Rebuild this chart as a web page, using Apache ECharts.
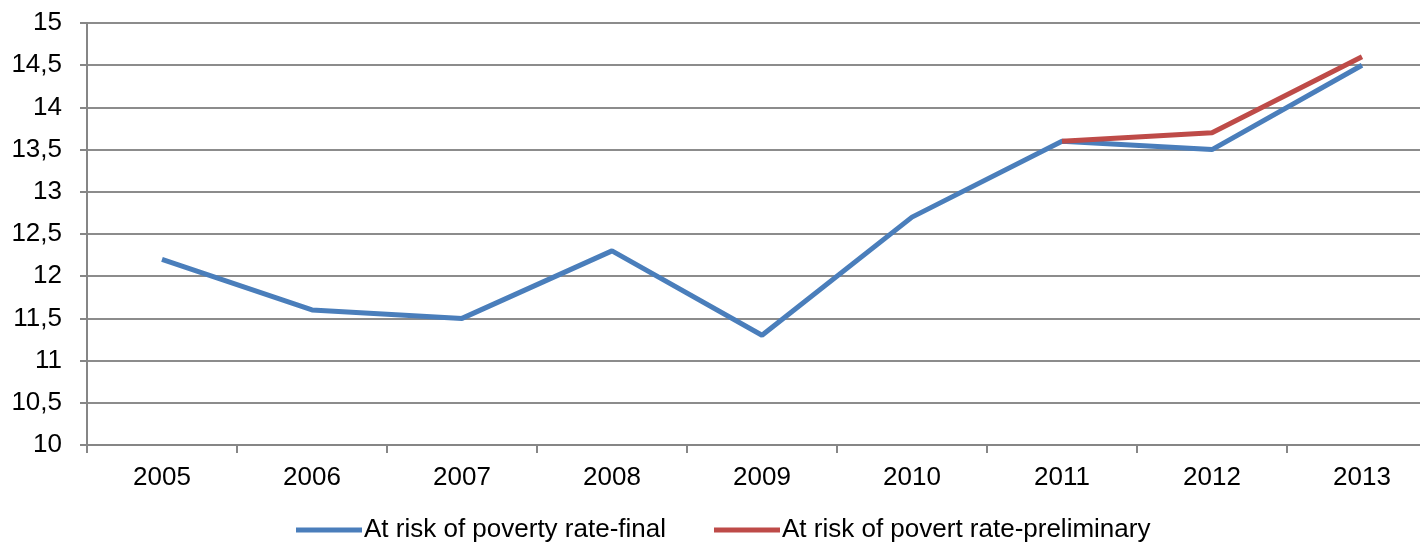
<!DOCTYPE html>
<html>
<head>
<meta charset="utf-8">
<script src="https://cdn.jsdelivr.net/npm/echarts@6/dist/echarts.min.js"></script>
<style>
  html, body { margin: 0; padding: 0; background: #fff; overflow: hidden; }
  #chart { width: 1437px; height: 546px; }
</style>
</head>
<body>
<div id="chart"></div>
<script>
// data
var years = ['2005', '2006', '2007', '2008', '2009', '2010', '2011', '2012', '2013'];
var finalRate = [12.2, 11.6, 11.5, 12.3, 11.3, 12.7, 13.6, 13.5, 14.5];
var preliminaryRate = [null, null, null, null, null, null, 13.6, 13.7, 14.6];
var yTicks = [10, 10.5, 11, 11.5, 12, 12.5, 13, 13.5, 14, 14.5, 15];

var myChart = echarts.init(document.getElementById('chart'));

var font = 'Arial, "Liberation Sans", sans-serif';

var option = {
    animation: false,
    grid: {
        left: 87,
        right: 0,
        top: 23,
        bottom: 101
    },
    legend: {
        bottom: -2,
        left: 291,
        itemWidth: 66,
        itemHeight: 5,
        itemGap: 48,
        icon: 'rect',
        textStyle: {
            fontFamily: font,
            fontSize: 26,
            color: '#000',
            padding: [0, 0, 0, -3]
        },
        data: ['At risk of poverty rate-final', 'At risk of povert rate-preliminary']
    },
    xAxis: {
        type: 'category',
        data: years,
        boundaryGap: true,
        axisLine: { lineStyle: { color: '#868686', width: 2 } },
        axisTick: { show: true, length: 8, lineStyle: { color: '#868686', width: 2 } },
        axisLabel: {
            margin: 20,
            fontFamily: font,
            fontSize: 26,
            color: '#000'
        }
    },
    yAxis: {
        type: 'value',
        min: yTicks[0],
        max: yTicks[yTicks.length - 1],
        interval: 0.5,
        axisLine: { show: true, lineStyle: { color: '#868686', width: 2 } },
        axisTick: { show: true, length: 7, lineStyle: { color: '#868686', width: 2 } },
        splitLine: { lineStyle: { color: '#8c8c8c', width: 2 } },
        axisLabel: {
            margin: 25,
            fontFamily: font,
            fontSize: 26,
            color: '#000',
            formatter: function (v) {
                return String(v).replace('.', ',');
            }
        }
    },
    series: [{
        name: 'At risk of poverty rate-final',
        type: 'line',
        data: finalRate,
        symbol: 'none',
        color: '#4a7ebb',
        lineStyle: { width: 5, color: '#4a7ebb' }
    }, {
        name: 'At risk of povert rate-preliminary',
        type: 'line',
        data: preliminaryRate,
        symbol: 'none',
        color: '#be4b48',
        lineStyle: { width: 5, color: '#be4b48' }
    }]
};

myChart.setOption(option);
</script>
</body>
</html>
